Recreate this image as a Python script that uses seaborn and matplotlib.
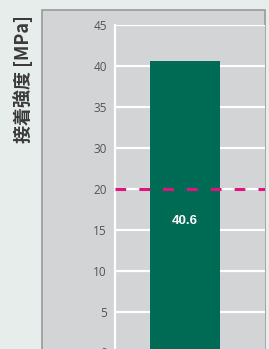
import pandas as pd
import matplotlib
matplotlib.use("Agg")
import matplotlib.pyplot as plt
from matplotlib.patches import Rectangle
import seaborn as sns

# Data
categories = ["試験片"]
values = [40.6]
# the reference labels its evenly spaced gridlines 0,5,10,15,20,30,35,40,45
# (no 25), so positions and labels are kept separately
ytick_pos = [5, 10, 15, 20, 25, 30, 35, 40, 45]
ytick_labels = ["0", "5", "10", "15", "20", "30", "35", "40", "45"]
threshold_pos = 25  # dashed line sits on the gridline labelled "20"
value_labels = ["40.6"]

df = pd.DataFrame({"cat": categories, "val": values})

sns.set_theme(style="white")
plt.rcParams["font.family"] = ["Noto Sans CJK JP", "DejaVu Sans"]

fig = plt.figure(figsize=(2.69, 3.49), dpi=100, facecolor="#e7edeb")

# gray panel behind the plot
fig.patches.append(Rectangle((42 / 269, -0.05), (265 - 42) / 269, 1.05 - 9.5 / 349,
                             transform=fig.transFigure, facecolor="#d3d4d6",
                             edgecolor="#9a9a9a", linewidth=1.2, zorder=-5))

ax = fig.add_axes([115 / 269, -7 / 349, 150 / 269, (356 - 25.3) / 349])
ax.set_zorder(2)
ax.set_facecolor("#d3d4d6")

sns.barplot(data=df, x="cat", y="val", color="#006b54", width=0.467,
            saturation=1, linewidth=0, edgecolor="none", ax=ax, zorder=3)

ax.set_xlim(-0.467, 0.533)
ax.set_ylim(4.57, 45)
ax.set_yticks(ytick_pos)
ax.set_yticklabels(ytick_labels, family="Open Sans")
ax.tick_params(axis="y", length=0, pad=5.8, labelsize=8.5, labelcolor="#555555")
ax.set_xticks([])
ax.set_xlabel("")

ax.grid(axis="y", color="white", linewidth=1.6, zorder=1)
ax.set_axisbelow(True)
for side in ["top", "right", "bottom"]:
    ax.spines[side].set_visible(False)
ax.spines["left"].set_color("white")
ax.spines["left"].set_linewidth(1.6)

ax.axhline(threshold_pos, color="#e2137b", linewidth=2.2,
           linestyle=(0, (3.5, 4.3)), zorder=4)

for i, txt in enumerate(value_labels):
    ax.text(i, 21.1, txt, ha="center", va="center", color="white",
            fontsize=9.5, fontweight="bold", family="Liberation Sans", zorder=5)

ax.set_ylabel("接着強度 [MPa]", fontsize=13, fontweight="bold", color="#3a3a3a", va="center")
ax.yaxis.set_label_coords((23 - 115) / 150, (356 - 79) / 330.7)

fig.savefig("out.png", dpi=100, facecolor=fig.get_facecolor())
